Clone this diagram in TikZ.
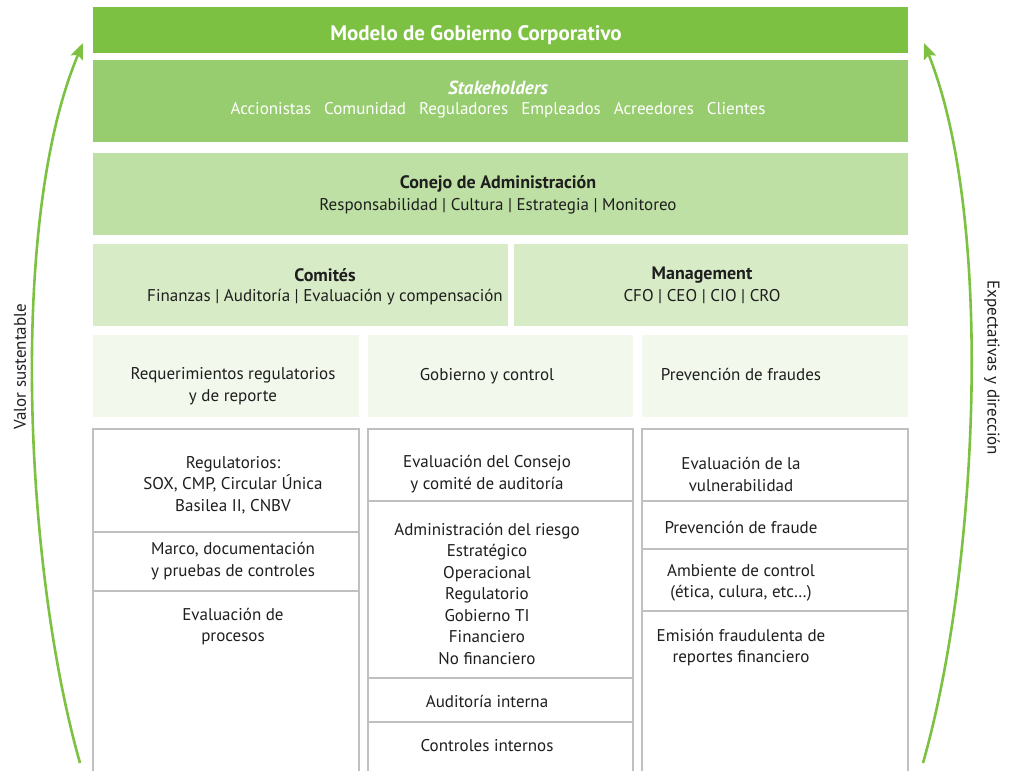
\documentclass[tikz,border=0pt]{standalone}
\usepackage{fontspec}
\setmainfont{PT Sans}
\usetikzlibrary{arrows.meta}

\definecolor{titlegreen}{RGB}{124,193,66}
\definecolor{stakegreen}{RGB}{151,205,111}
\definecolor{boardgreen}{RGB}{191,224,164}
\definecolor{commgreen}{RGB}{216,235,199}
\definecolor{areagreen}{RGB}{242,248,236}
\definecolor{cellline}{RGB}{192,192,192}
\definecolor{inkgray}{RGB}{30,30,30}

\newcommand{\wgap}{\hspace*{13pt}}

\begin{document}
\begin{tikzpicture}[x=1pt,y=-1pt,
  lbl/.style={font=\fontsize{17}{21.5}\selectfont, align=center, inner sep=0pt, text=inkgray, yshift=-1.8pt},
  wlbl/.style={lbl, text=white},
  head/.style={lbl, font=\fontsize{18}{21.5}\selectfont\bfseries},
  cell/.style={draw=cellline, line width=1.2pt},
  flow/.style={draw=titlegreen, line width=2.6pt,
    -{Stealth[length=16pt,width=13pt,inset=3pt]}}]

\useasboundingbox (0,0) rectangle (1013,771);

% coloured bands
\fill[titlegreen] (93,7)   rectangle (908,53);
\fill[stakegreen] (93,60)  rectangle (908,142);
\fill[boardgreen] (93,153) rectangle (908,235);
\fill[commgreen]  (93,244) rectangle (508,326);
\fill[commgreen]  (514,244) rectangle (908,326);
\fill[areagreen]  (93,335) rectangle (359,417);
\fill[areagreen]  (368,335) rectangle (633,417);
\fill[areagreen]  (642,335) rectangle (908,417);

% open-bottom columns with their dividers
\draw[cell] (93,771) -- (93,429) -- (359,429) -- (359,771);
\draw[cell] (93,532) -- (359,532);
\draw[cell] (93,591) -- (359,591);
\draw[cell] (368,771) -- (368,429) -- (633,429) -- (633,771);
\draw[cell] (368,501) -- (633,501);
\draw[cell] (368,678) -- (633,678);
\draw[cell] (368,722) -- (633,722);
\draw[cell] (642,771) -- (642,429) -- (908,429) -- (908,771);
\draw[cell] (642,501) -- (908,501);
\draw[cell] (642,549) -- (908,549);
\draw[cell] (642,611) -- (908,611);

% header texts
\node[wlbl, font=\fontsize{21}{24}\selectfont\bfseries] (title) at (476,33) {Modelo de Gobierno Corporativo};
\node[wlbl, font=\fontsize{19}{21.5}\selectfont\bfseries\itshape] (stake) at (498,86.5) {Stakeholders};
\node[wlbl] (stakelist) at (498,108) {Accionistas\wgap Comunidad\wgap Reguladores\wgap Empleados\wgap Acreedores\wgap Clientes};
\node[head] (board) at (498,182) {Conejo de Administración};
\node[lbl] (boardlist) at (498,204) {Responsabilidad | Cultura | Estrategia | Monitoreo};
\node[head] (comm) at (325,273) {Comités};
\node[lbl] (commlist) at (325,295) {Finanzas | Auditoría | Evaluación y compensación};
\node[head] (mgmt) at (702,273.5) {Management};
\node[lbl] (mgmtlist) at (702,295) {CFO | CEO | CIO | CRO};

% area headings
\node[lbl] (reqs) at (233,384.5) {Requerimientos regulatorios\\y de reporte};
\node[lbl] (gov) at (487,374) {Gobierno y control};
\node[lbl] (fraud) at (741,373) {Prevención de fraudes};

% first column
\node[lbl] (regs) at (233,483) {Regulatorios:\\SOX, CMP, Circular Única\\Basilea II, CNBV};
\node[lbl] (frame) at (233,559.5) {Marco, documentación\\y pruebas de controles};
\node[lbl] (proc) at (233,625) {Evaluación de\\procesos};

% second column
\node[lbl] (evalboard) at (487,472.5) {Evaluación del Consejo\\y comité de auditoría};
\node[lbl] (risk) at (487,592) {Administración del riesgo\\Estratégico\\Operacional\\Regulatorio\\Gobierno TI\\Financiero\\No financiero};
\node[lbl] (audit) at (487,700) {Auditoría interna};
\node[lbl] (ctrl) at (487,744) {Controles internos};

% third column
\node[lbl] (vuln) at (741,472.5) {Evaluación de la\\vulnerabilidad};
\node[lbl] (prev) at (741,526) {Prevención de fraude};
\node[lbl] (env) at (741,581) {Ambiente de control\\(ética, culura, etc…)};
\node[lbl] (emis) at (741,646) {Emisión fraudulenta de\\reportes financiero};

% side arrows
\coordinate (lfoot) at (80,763);
\coordinate (ltip) at (83,43);
\coordinate (rfoot) at (923,763);
\coordinate (rtip) at (924,43);
\draw[flow] (lfoot) .. controls (25,570) and (8,220) .. (ltip);
\draw[flow] (rfoot) .. controls (978,570) and (995,220) .. (rtip);

\node[lbl, rotate=90, yshift=0pt] (value) at (20,365) {Valor sustentable};
\node[lbl, rotate=-90, yshift=0pt] (expect) at (992,366) {Expectativas y dirección};

\end{tikzpicture}
\end{document}
